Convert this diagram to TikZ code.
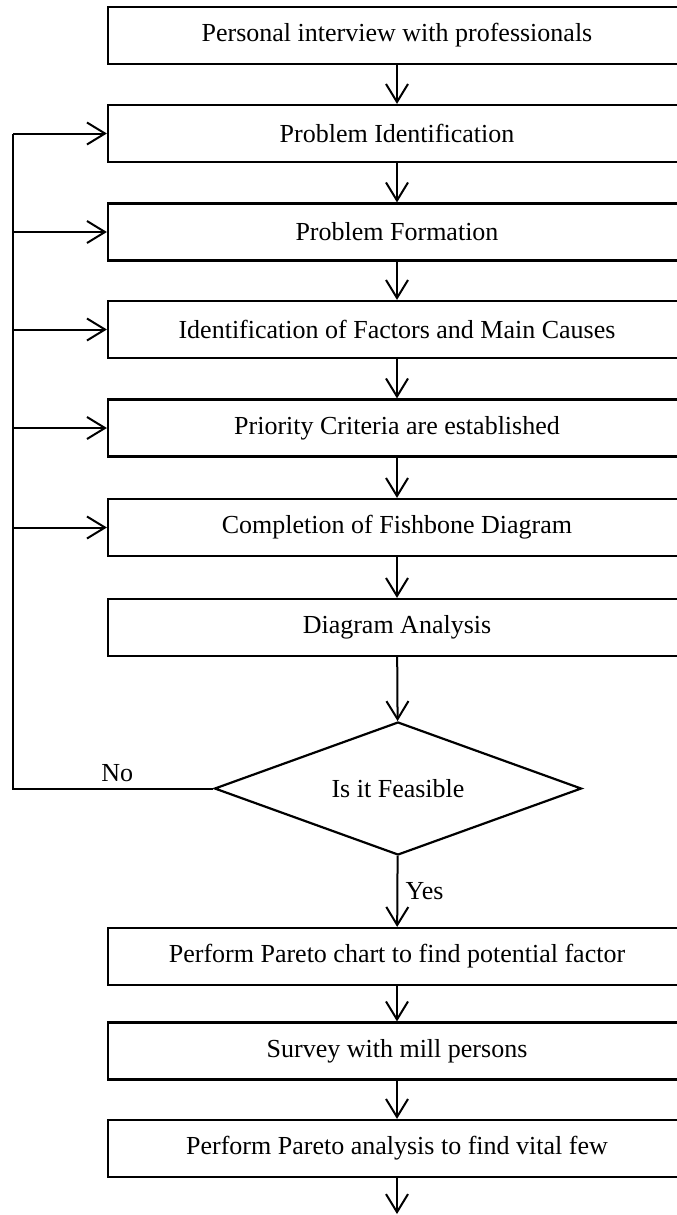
\documentclass[tikz,border=0pt]{standalone}
\usepackage{fontspec}
\setmainfont{Liberation Serif}
\usetikzlibrary{shapes.geometric,arrows.meta}

\tikzset{
  stepbox/.style = {draw, line width=2.2pt, rectangle, minimum width=578pt,
                    minimum height=57pt, inner sep=0pt},
  decision/.style = {draw, line width=2.2pt, diamond, minimum width=367pt,
                     minimum height=133pt, aspect=2.75, inner sep=0pt},
  flow/.style = {line width=2pt, -{Straight Barb[length=18pt,width=22pt,line width=2pt]}},
  line/.style = {line width=2pt}
}

\begin{document}
\begin{tikzpicture}[x=1pt, y=-1pt, font=\fontsize{26}{30}\selectfont]
  \useasboundingbox (0,0) rectangle (677,1215);

  \node[stepbox] (interview) at (397,35.5)  {Personal interview with professionals};
  \node[stepbox] (ident)     at (397,133.5) {Problem Identification};
  \node[stepbox] (form)      at (397,232)   {Problem Formation};
  \node[stepbox] (factors)   at (397,329.5) {Identification of Factors and Main Causes};
  \node[stepbox] (priority)  at (397,428)   {Priority Criteria are established};
  \node[stepbox] (fishbone)  at (397,527.5) {Completion of Fishbone Diagram};
  \node[stepbox] (analysis)  at (397,627.5) {Diagram Analysis};
  \node[decision] (feasible) at (398,788.5) {Is it Feasible};
  \node[stepbox] (chart)     at (397,956.5) {Perform Pareto chart to find potential factor};
  \node[stepbox] (survey)    at (397,1051)  {Survey with mill persons};
  \node[stepbox] (vital)     at (397,1148.5) {Perform Pareto analysis to find vital few};
  \coordinate (out) at (397,1214);

  % main flow
  \foreach \a/\b in {interview/ident, ident/form, form/factors, factors/priority,
                     priority/fishbone, fishbone/analysis, analysis/feasible}
    \draw[flow] (\a) -- (\b);
  \draw[flow] (feasible) -- node[right, xshift=4pt] {Yes} (chart);
  \draw[flow] (chart) -- (survey);
  \draw[flow] (survey) -- (vital);
  \draw[flow] (vital) -- (out);

  % feedback loop
  \coordinate (back) at (13,788.5);
  \draw[line] (feasible.west) -- node[above, pos=0.48, yshift=2pt] {No} (back) -- (13,133.5);
  \foreach \n in {ident, form, factors, priority, fishbone}
    \draw[flow] (back |- \n) -- (\n.west);
\end{tikzpicture}
\end{document}
